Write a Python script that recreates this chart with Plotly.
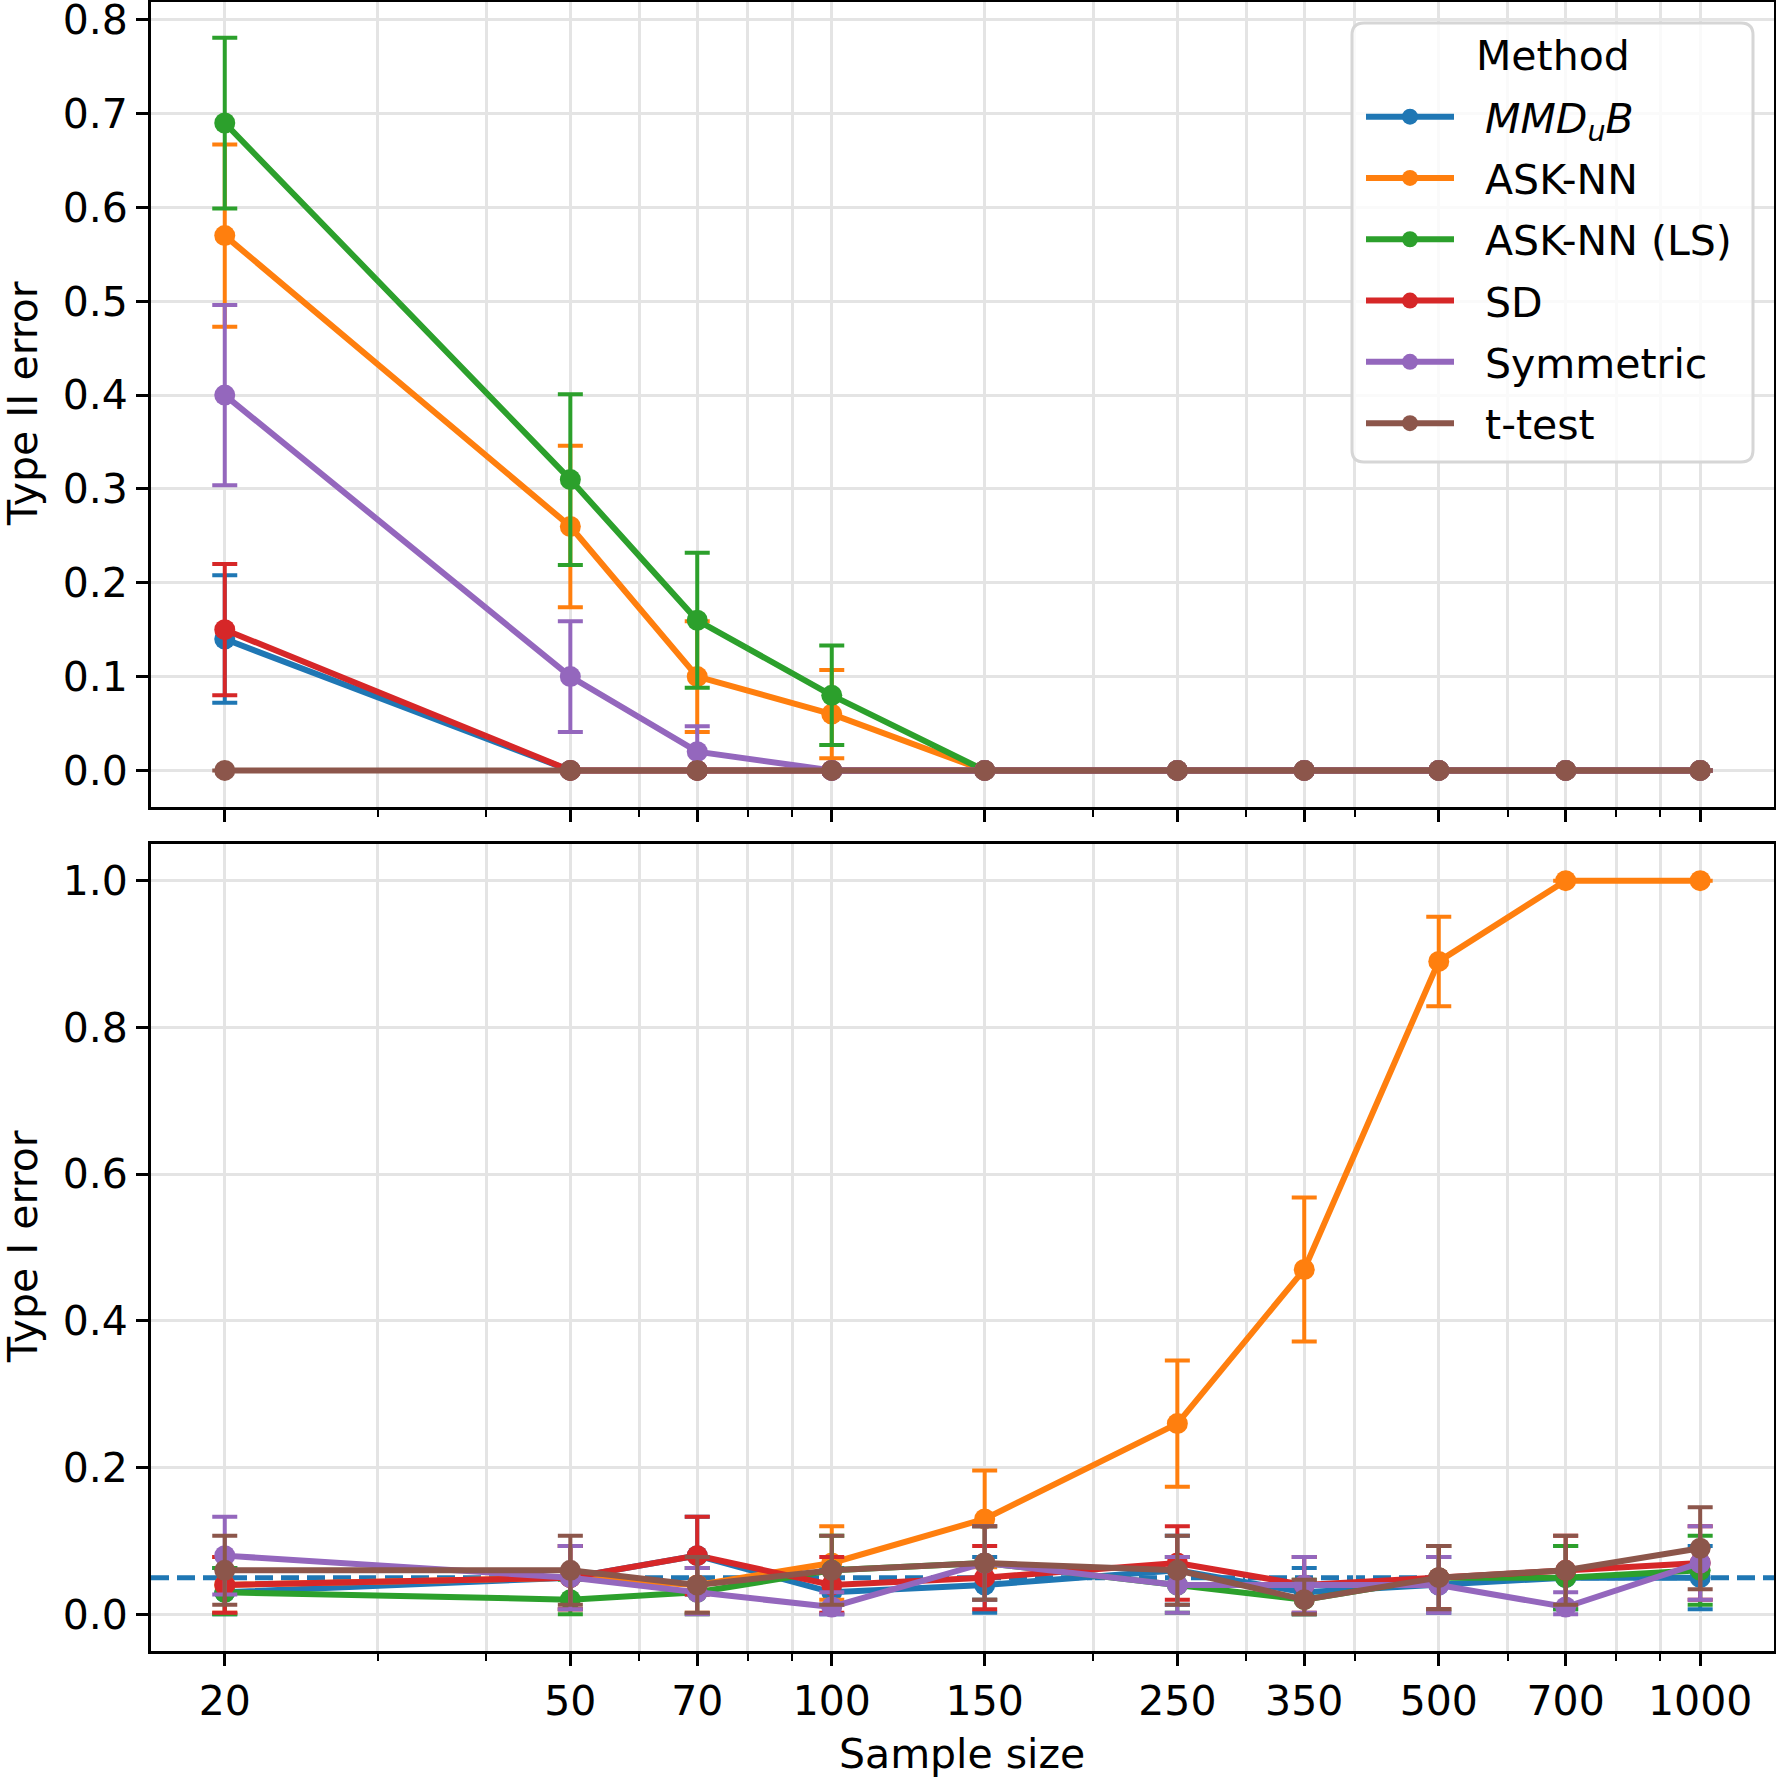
import plotly.graph_objects as go
from plotly.subplots import make_subplots

# ---------------- data ----------------
sample_sizes = [20, 50, 70, 100, 150, 250, 350, 500, 700, 1000]
tick_labels = ["20", "50", "70", "100", "150", "250", "350", "500", "700", "1000"]
minor_ticks = [30, 40, 60, 80, 90, 200, 300, 400, 600, 800, 900]

methods = ["<i>MMD<sub>u</sub>B</i>", "ASK-NN", "ASK-NN (LS)", "SD", "Symmetric", "t-test"]
colors = ["#1f77b4", "#ff7f0e", "#2ca02c", "#d62728", "#9467bd", "#8c564b"]

# Type II error (top panel)
mmd_t2 = [0.14, 0.0, 0.0, 0.0, 0.0, 0.0, 0.0, 0.0, 0.0, 0.0]
asknn_t2 = [0.57, 0.26, 0.10, 0.06, 0.0, 0.0, 0.0, 0.0, 0.0, 0.0]
asknnls_t2 = [0.69, 0.31, 0.16, 0.08, 0.0, 0.0, 0.0, 0.0, 0.0, 0.0]
sd_t2 = [0.15, 0.0, 0.0, 0.0, 0.0, 0.0, 0.0, 0.0, 0.0, 0.0]
sym_t2 = [0.40, 0.10, 0.02, 0.0, 0.0, 0.0, 0.0, 0.0, 0.0, 0.0]
ttest_t2 = [0.0, 0.0, 0.0, 0.0, 0.0, 0.0, 0.0, 0.0, 0.0, 0.0]

mmd_t2_hi = [0.068, 0, 0, 0, 0, 0, 0, 0, 0, 0]
mmd_t2_lo = [0.068, 0, 0, 0, 0, 0, 0, 0, 0, 0]
asknn_t2_hi = [0.097, 0.086, 0.059, 0.047, 0, 0, 0, 0, 0, 0]
asknn_t2_lo = [0.097, 0.086, 0.059, 0.047, 0, 0, 0, 0, 0, 0]
asknnls_t2_hi = [0.091, 0.091, 0.072, 0.053, 0, 0, 0, 0, 0, 0]
asknnls_t2_lo = [0.091, 0.091, 0.072, 0.053, 0, 0, 0, 0, 0, 0]
sd_t2_hi = [0.070, 0, 0, 0, 0, 0, 0, 0, 0, 0]
sd_t2_lo = [0.070, 0, 0, 0, 0, 0, 0, 0, 0, 0]
sym_t2_hi = [0.096, 0.059, 0.027, 0, 0, 0, 0, 0, 0, 0]
sym_t2_lo = [0.096, 0.059, 0.020, 0, 0, 0, 0, 0, 0, 0]
ttest_t2_hi = [0, 0, 0, 0, 0, 0, 0, 0, 0, 0]
ttest_t2_lo = [0, 0, 0, 0, 0, 0, 0, 0, 0, 0]

# Type I error (bottom panel)
mmd_t1 = [0.03, 0.05, 0.08, 0.03, 0.04, 0.06, 0.03, 0.04, 0.05, 0.05]
asknn_t1 = [0.04, 0.05, 0.04, 0.07, 0.13, 0.26, 0.47, 0.89, 1.0, 1.0]
asknnls_t1 = [0.03, 0.02, 0.03, 0.06, 0.07, 0.04, 0.02, 0.05, 0.05, 0.06]
sd_t1 = [0.04, 0.05, 0.08, 0.04, 0.05, 0.07, 0.04, 0.05, 0.06, 0.07]
sym_t1 = [0.08, 0.05, 0.03, 0.01, 0.07, 0.04, 0.04, 0.04, 0.01, 0.07]
ttest_t1 = [0.06, 0.06, 0.04, 0.06, 0.07, 0.06, 0.02, 0.05, 0.06, 0.09]

mmd_t1_hi = [0.033, 0.043, 0.053, 0.033, 0.038, 0.047, 0.033, 0.038, 0.043, 0.043]
mmd_t1_lo = [0.030, 0.043, 0.053, 0.030, 0.038, 0.047, 0.030, 0.038, 0.043, 0.043]
asknn_t1_hi = [0.038, 0.043, 0.038, 0.050, 0.066, 0.086, 0.098, 0.061, 0.0, 0.0]
asknn_t1_lo = [0.038, 0.043, 0.038, 0.050, 0.066, 0.086, 0.098, 0.061, 0.0, 0.0]
asknnls_t1_hi = [0.033, 0.027, 0.033, 0.047, 0.050, 0.038, 0.027, 0.043, 0.043, 0.047]
asknnls_t1_lo = [0.030, 0.020, 0.030, 0.047, 0.050, 0.038, 0.020, 0.043, 0.043, 0.047]
sd_t1_hi = [0.038, 0.043, 0.053, 0.038, 0.043, 0.050, 0.038, 0.043, 0.047, 0.050]
sd_t1_lo = [0.038, 0.043, 0.053, 0.038, 0.043, 0.050, 0.038, 0.043, 0.047, 0.050]
sym_t1_hi = [0.053, 0.043, 0.033, 0.020, 0.050, 0.038, 0.038, 0.038, 0.020, 0.050]
sym_t1_lo = [0.053, 0.043, 0.030, 0.010, 0.050, 0.038, 0.038, 0.038, 0.010, 0.050]
ttest_t1_hi = [0.047, 0.047, 0.038, 0.047, 0.050, 0.047, 0.027, 0.043, 0.047, 0.056]
ttest_t1_lo = [0.047, 0.047, 0.038, 0.047, 0.050, 0.047, 0.020, 0.043, 0.047, 0.056]

alpha_level = 0.05

top_series = [
    (mmd_t2, mmd_t2_hi, mmd_t2_lo),
    (asknn_t2, asknn_t2_hi, asknn_t2_lo),
    (asknnls_t2, asknnls_t2_hi, asknnls_t2_lo),
    (sd_t2, sd_t2_hi, sd_t2_lo),
    (sym_t2, sym_t2_hi, sym_t2_lo),
    (ttest_t2, ttest_t2_hi, ttest_t2_lo),
]
bottom_series = [
    (mmd_t1, mmd_t1_hi, mmd_t1_lo),
    (asknn_t1, asknn_t1_hi, asknn_t1_lo),
    (asknnls_t1, asknnls_t1_hi, asknnls_t1_lo),
    (sd_t1, sd_t1_hi, sd_t1_lo),
    (sym_t1, sym_t1_hi, sym_t1_lo),
    (ttest_t1, ttest_t1_hi, ttest_t1_lo),
]

# ---------------- figure ----------------
W, H = 1776, 1777
FONT = "DejaVu Sans"
FS = 41
NB = "\u00a0"

fig = make_subplots(rows=2, cols=1, shared_xaxes=True)


def add_panel(series, row, showlegend):
    for i, (vals, hi, lo) in enumerate(series):
        fig.add_trace(
            go.Scatter(
                x=sample_sizes,
                y=vals,
                mode="lines+markers",
                name=NB + NB + methods[i],
                legendgroup=methods[i],
                showlegend=showlegend,
                line=dict(color=colors[i], width=6),
                marker=dict(color=colors[i], size=21, line=dict(width=0)),
                error_y=dict(
                    type="data",
                    symmetric=False,
                    array=hi,
                    arrayminus=lo,
                    color=colors[i],
                    thickness=4,
                    width=12.5,
                ),
            ),
            row=row,
            col=1,
        )


add_panel(top_series, 1, True)
add_panel(bottom_series, 2, False)

fig.add_shape(
    type="line",
    xref="x2 domain",
    yref="y2",
    x0=0,
    x1=1,
    y0=alpha_level,
    y1=alpha_level,
    line=dict(color="#1f77b4", width=5, dash="18px,8px"),
    layer="below",
)

# rounded legend frame (pixel coordinates converted to paper)
L, T, R, B, RAD = 1352, 23, 1753, 462, 12


def px(x):
    return x / W


def py(y):
    return 1 - y / H


frame = (
    f"M {px(L + RAD)} {py(T)} L {px(R - RAD)} {py(T)} "
    f"Q {px(R)} {py(T)} {px(R)} {py(T + RAD)} "
    f"L {px(R)} {py(B - RAD)} Q {px(R)} {py(B)} {px(R - RAD)} {py(B)} "
    f"L {px(L + RAD)} {py(B)} Q {px(L)} {py(B)} {px(L)} {py(B - RAD)} "
    f"L {px(L)} {py(T + RAD)} Q {px(L)} {py(T)} {px(L + RAD)} {py(T)} Z"
)
fig.add_shape(
    type="path",
    path=frame,
    xref="paper",
    yref="paper",
    fillcolor="rgba(255,255,255,0.8)",
    line=dict(color="#d6d6d6", width=3),
    layer="above",
)

grid_color = "#e4e4e4"
xdom = [151 / W, 1774 / W]
top_dom = [1 - 807 / H, 1 - 2 / H]
bot_dom = [1 - 1651 / H, 1 - 844 / H]
xrange_log = [1.2161, 3.0850]

common_x = dict(
    type="log",
    range=xrange_log,
    domain=xdom,
    tickmode="array",
    tickvals=sample_sizes,
    ticktext=tick_labels,
    ticks="outside",
    ticklen=12,
    tickwidth=2.7,
    tickcolor="black",
    showgrid=True,
    gridcolor=grid_color,
    gridwidth=3,
    showline=True,
    mirror=True,
    linecolor="black",
    linewidth=2.7,
    zeroline=False,
    minor=dict(
        tickmode="array",
        tickvals=minor_ticks,
        ticks="outside",
        ticklen=7,
        tickwidth=2,
        tickcolor="black",
        showgrid=True,
        gridcolor=grid_color,
        gridwidth=3,
    ),
    tickfont=dict(family=FONT, size=FS, color="black"),
)

common_y = dict(
    ticks="outside",
    ticklen=12,
    tickwidth=2.7,
    tickcolor="black",
    showgrid=True,
    gridcolor=grid_color,
    gridwidth=3,
    showline=True,
    mirror=True,
    linecolor="black",
    linewidth=2.7,
    zeroline=False,
    tickfont=dict(family=FONT, size=FS, color="black"),
    tickmode="array",
    ticklabeloverflow="allow",
)

fig.update_layout(
    width=W,
    height=H,
    margin=dict(l=0, r=0, t=0, b=0, autoexpand=False),
    paper_bgcolor="white",
    plot_bgcolor="white",
    font=dict(family=FONT, size=FS, color="black"),
    xaxis=dict(common_x, showticklabels=False),
    xaxis2=dict(common_x, showticklabels=True),
    yaxis=dict(
        common_y,
        domain=top_dom,
        range=[-0.039, 0.819],
        tickvals=[0, 0.1, 0.2, 0.3, 0.4, 0.5, 0.6, 0.7, 0.8],
        ticktext=["0.0", "0.1", "0.2", "0.3", "0.4", "0.5", "0.6", "0.7", "0.8"],
    ),
    yaxis2=dict(
        common_y,
        domain=bot_dom,
        range=[-0.05, 1.05],
        tickvals=[0, 0.2, 0.4, 0.6, 0.8, 1.0],
        ticktext=["0.0", "0.2", "0.4", "0.6", "0.8", "1.0"],
    ),
    legend=dict(
        x=1361 / W,
        xanchor="left",
        y=1 - 83.5 / H,
        yanchor="top",
        bgcolor="rgba(0,0,0,0)",
        borderwidth=0,
        font=dict(family=FONT, size=FS, color="black"),
        itemwidth=88,
        tracegroupgap=5,
        traceorder="grouped",
    ),
    showlegend=True,
)

annotations = [
    dict(text="Type II error", x=23 / W, y=1 - 404 / H, xref="paper", yref="paper",
         textangle=-90, showarrow=False, xanchor="center", yanchor="middle",
         font=dict(family=FONT, size=FS, color="black")),
    dict(text="Type I error", x=23 / W, y=1 - 1247 / H, xref="paper", yref="paper",
         textangle=-90, showarrow=False, xanchor="center", yanchor="middle",
         font=dict(family=FONT, size=FS, color="black")),
    dict(text="Sample size", x=962 / W, y=1 - 1754 / H, xref="paper", yref="paper",
         showarrow=False, xanchor="center", yanchor="middle",
         font=dict(family=FONT, size=FS, color="black")),
    dict(text="Method", x=1553 / W, y=1 - 56 / H, xref="paper", yref="paper",
         showarrow=False, xanchor="center", yanchor="middle",
         font=dict(family=FONT, size=FS, color="black")),
]
fig.update_layout(annotations=annotations)

fig.write_html("out.html")
